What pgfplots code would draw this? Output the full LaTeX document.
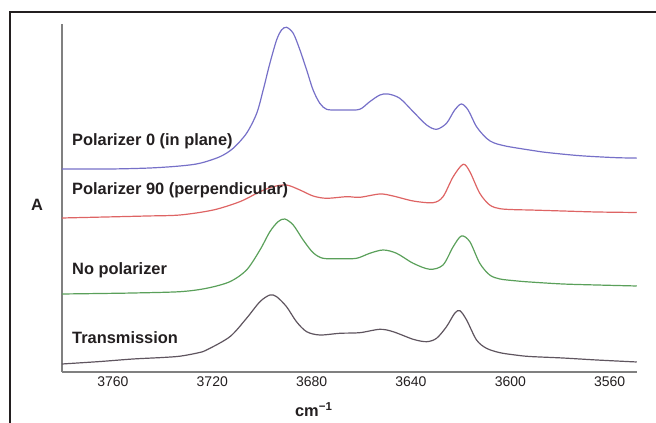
\documentclass[border=0pt]{standalone}
\usepackage{fontspec}
\setmainfont{Liberation Sans}
\usepackage{pgfplots}
\pgfplotsset{compat=1.18}
\definecolor{cblue}{RGB}{118,112,200}
\definecolor{cred}{RGB}{222,100,100}
\definecolor{cgreen}{RGB}{90,160,90}
\definecolor{cgray}{RGB}{95,85,95}
\definecolor{ctext}{RGB}{35,31,32}
\begin{document}
\begin{tikzpicture}[x=1pt,y=1pt]
\path[use as bounding box] (0,0) rectangle (492,317.25);
\draw[line width=0.9pt, color=ctext] (7.5,-5) -- (7.5,308.25) -- (500,308.25);
\begin{axis}[
  at={(46.5pt,38.25pt)}, anchor=south west,
  scale only axis, width=431.25pt, height=261pt,
  x dir=reverse, xmin=3549, xmax=3780.5, ymin=0, ymax=348,
  axis x line=bottom, axis y line=left,
  axis line style={-, line width=0.8pt, color=gray},
  ytick=\empty, xtick={3560,3600,3640,3680,3720,3760},
  major tick length=0pt, scaled x ticks=false,
  xticklabel style={font=\fontsize{10.5}{12}\selectfont, text=ctext},
  /pgf/number format/assume math mode=true,
  /pgf/number format/set thousands separator={},
  clip=false,
  every axis plot/.append style={line width=0.9pt, smooth, no markers}
]
\addplot[cblue] coordinates {
(3780.5,203) (3761.2,203) (3745.1,204) (3733.0,206) (3725.0,208.7) (3716.9,215.3)
(3711.6,223.7) (3706.2,238.7) (3702.1,258.7) (3699.5,282) (3696.8,308.7) (3694.1,332)
(3692.1,342) (3690.1,344.7) (3687.4,338.7) (3684.7,322) (3682.0,302) (3679.4,282)
(3676.7,268.7) (3674.0,262.7) (3670,262) (3665.9,262) (3660.6,262.7) (3656.6,270.3) (3652.5,277)
(3649.2,278) (3644.5,273.7) (3639.1,260.3) (3633.7,247) (3629.7,242.7) (3625.7,248.7)
(3622.4,262) (3619.7,268) (3617.0,262) (3613.6,245.3) (3609.6,233.7) (3606.5,229)
(3602,226) (3597.4,224) (3591,221.5) (3585.3,219.5) (3572.0,216.3) (3557.2,214.3) (3549.1,214)};
\addplot[cred] coordinates {
(3780.5,154) (3763,155) (3746.3,156) (3733.0,157) (3719.6,162) (3708.9,170.3) (3700.8,180.3)
(3695.5,185.3) (3690.1,187) (3684.7,182) (3679.4,176) (3674.0,173.7) (3665.9,175.3)
(3660.6,174.7) (3652.5,178) (3647.2,176) (3639.1,171) (3631.1,169.3) (3627.1,175.3)
(3623.0,195.3) (3619.0,207.7) (3616.3,200.3) (3612.3,178.7) (3608.3,167) (3604.2,163.3)
(3598,162.3) (3592.2,162) (3578.9,161) (3565.2,160) (3549.1,159.5)};
\addplot[cgreen] coordinates {
(3780.5,78) (3765,78.5) (3751.9,79) (3733.0,80.3) (3722.3,83.7) (3712.9,90.3) (3706.2,102)
(3700.8,122) (3696.8,140.3) (3693.5,150.3) (3690.8,153) (3687.4,147) (3683.4,132)
(3679.4,119.3) (3675.4,113.7) (3668.6,113.3) (3661.9,113.7) (3656.6,118.7) (3651.2,122)
(3645.8,118.7) (3639.1,108.7) (3632.4,102.7) (3627.1,107) (3623.0,125.3) (3619.7,136)
(3616.3,130.3) (3612.3,108.7) (3608.3,97) (3604.2,93) (3598,91.2) (3592.2,90) (3578.9,88)
(3565.2,87) (3549.1,86)};
\addplot[cgray] coordinates {
(3780.5,8) (3765,10.5) (3751.9,13) (3740,14.5) (3733.0,15.8) (3726,19) (3722.3,22) (3712.9,35.3) (3706.2,53.7)
(3700.8,70.3) (3696.8,77) (3694.1,75.3) (3690.1,65.3) (3686.1,50.3) (3682.0,40.3)
(3676.7,37) (3668.6,38.7) (3660.6,39.3) (3652.5,42.7) (3647.2,40.3) (3639.1,32.7)
(3633.7,30.3) (3629.7,33.7) (3625.7,45.3) (3622.4,58.7) (3620.3,61.3) (3617.6,52)
(3613.6,32) (3609.6,23.7) (3604.2,19.3) (3598,17) (3592.2,15.5) (3578.9,14) (3565.2,12) (3549.1,10)};
\begin{scope}[every node/.style={anchor=base west, inner sep=0pt, text=ctext, font=\bfseries\fontsize{12.3}{14}\selectfont}]
\node at (axis cs:3776.5,226) {Polarizer 0 (in plane)};
\node at (axis cs:3776.5,177) {Polarizer 90 (perpendicular)};
\node at (axis cs:3776.5,97) {No polarizer};
\node at (axis cs:3776.5,28) {Transmission};
\end{scope}
\node[text=ctext, font=\bfseries\fontsize{12.3}{14}\selectfont] at (rel axis cs:0.438,0) [yshift=-28.5pt] {cm\textsuperscript{−1}};
\node[text=ctext, font=\bfseries\fontsize{12.3}{14}\selectfont] at (rel axis cs:0,0.48) [xshift=-18.75pt] {A};
\end{axis}
\end{tikzpicture}
\end{document}
